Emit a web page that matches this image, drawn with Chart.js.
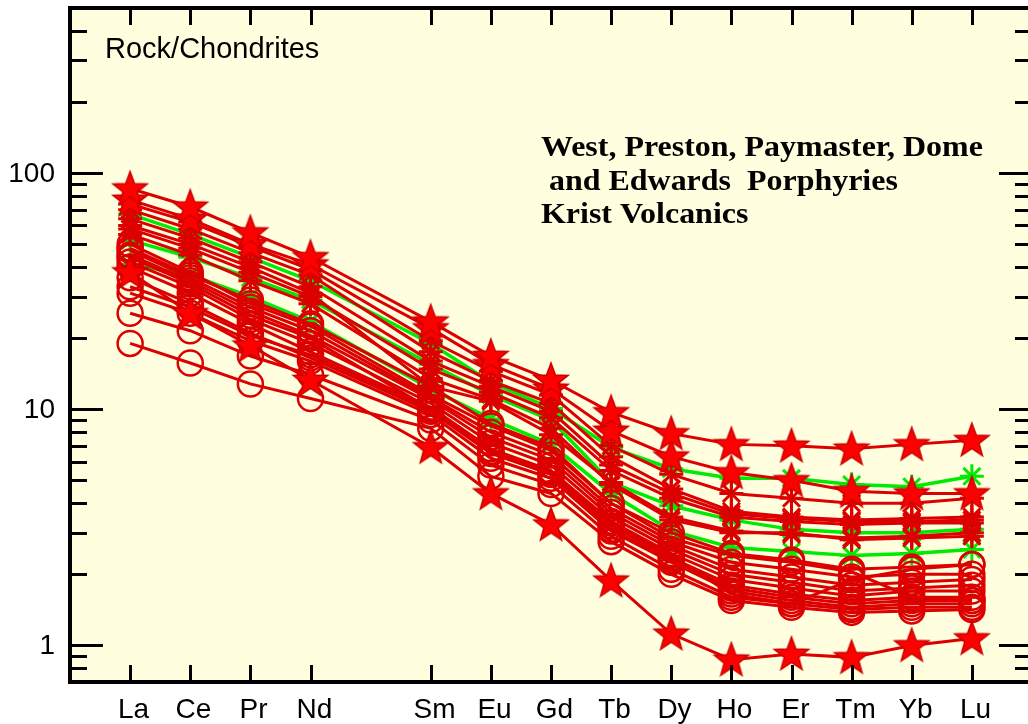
<!DOCTYPE html>
<html>
<head>
<meta charset="utf-8">
<title>REE spider diagram</title>
<script src="https://cdn.jsdelivr.net/npm/chart.js@4.4.1/dist/chart.umd.min.js"></script>
<style>
  html, body { margin: 0; padding: 0; background: #fff; overflow: hidden; }
  #wrap { width: 1028px; height: 724px; overflow: hidden; position: relative; }
  #ree { display: block; }
</style>
</head>
<body>
<div id="wrap"><canvas id="ree" width="1040" height="724"></canvas></div>
<script>
// x axis slots; Pm is not analysed, its slot stays empty
const elements = ['La', 'Ce', 'Pr', 'Nd', 'Pm', 'Sm', 'Eu', 'Gd', 'Tb', 'Dy', 'Ho', 'Er', 'Tm', 'Yb', 'Lu'];
const analysed = ['La', 'Ce', 'Pr', 'Nd', 'Sm', 'Eu', 'Gd', 'Tb', 'Dy', 'Ho', 'Er', 'Tm', 'Yb', 'Lu'];
const yTickLabels = [1, 10, 100];

// rock / chondrite values, one row per sample, in `analysed` order
const starSamples = [
    [86, 72, 56, 44, 23.5, 16.8, 13.3, 9.7, 7.9, 7.1, 7.0, 6.8, 7.1, 7.4],
    [77, 64, 50, 41, 22, 15.5, 12.2, 8.1, 6.3, 5.4, 5.0, 4.5, 4.4, 4.4],
    [38, 25.5, 18.6, 13.3, 6.9, 4.4, 3.25, 1.88, 1.12, 0.87, 0.92, 0.89, 1.0, 1.07]
];

const crossSamples = [
    [70, 58, 46, 37, 17.5, 13.2, 10.6, 6.3, 4.6, 3.7, 3.5, 3.4, 3.45, 3.5],
    [64, 53, 42, 33, 16, 12.5, 9.8, 5.8, 4.4, 3.6, 3.45, 3.35, 3.35, 3.4],
    [58, 48, 38, 30, 14.8, 11.8, 9.2, 5.5, 4.2, 3.5, 3.35, 3.25, 3.3, 3.3],
    [55, 45, 35, 28, 13.5, 11, 8.3, 4.8, 3.4, 3.0, 3.0, 2.8, 2.85, 2.9],
    [60, 50, 40, 31, 12.5, 10.8, 7.8, 4.9, 3.5, 3.05, 2.95, 2.85, 2.9, 3.0],
    [74, 62, 49, 39, 19.5, 14.5, 11.5, 7.0, 5.3, 4.4, 4.2, 4.0, 4.0, 4.2]
];

const circleSamples = [
    [19, 15.7, 12.8, 11.1, 8.3, 5.2, 4.4, 2.75, 2.0, 1.55, 1.45, 1.38, 1.4, 1.42],
    [25.5, 21.5, 16.8, 14, 9.0, 5.8, 4.8, 2.9, 2.1, 1.6, 1.5, 1.42, 1.45, 1.45],
    [31, 25.5, 19.5, 16, 9.5, 6.2, 5.1, 3.05, 2.25, 1.7, 1.55, 1.45, 1.5, 1.5],
    [36, 28, 21, 16.5, 9.8, 6.5, 5.3, 3.2, 2.35, 1.8, 1.65, 1.55, 1.6, 1.6],
    [40, 31, 23, 17.5, 10.2, 6.8, 5.5, 3.35, 2.45, 1.9, 1.75, 1.62, 1.7, 1.7],
    [42, 33, 24, 19, 10.6, 7.2, 5.8, 3.5, 2.55, 2.0, 1.85, 1.7, 1.75, 1.8],
    [45, 35, 26, 20.5, 11, 7.6, 6.1, 3.65, 2.65, 2.1, 1.95, 1.8, 1.85, 1.9],
    [47, 36, 27, 21.5, 11.2, 8.0, 6.4, 3.8, 2.75, 2.25, 2.1, 1.95, 2.0, 2.0],
    [50, 38, 28, 22.5, 11.5, 8.5, 6.7, 4.0, 2.85, 2.4, 2.25, 2.05, 1.6, 1.55],
    [44, 34, 25, 20, 10.0, 6.6, 5.4, 3.3, 2.4, 1.65, 1.5, 1.9, 2.1, 2.2],
    [48, 37, 29, 23, 12.5, 8.7, 6.9, 4.0, 3.0, 2.45, 2.3, 2.1, 2.15, 2.2],
    [33, 27, 20.5, 17, 10, 6.6, 5.3, 3.1, 2.3, 1.75, 1.6, 1.5, 1.55, 1.55]
];

const greenSamples = [
    [67, 55, 44, 35, 19, 13, 10.1, 6.9, 5.6, 5.1, 5.1, 4.8, 4.7, 5.2],
    [52, 44, 36, 29, 15.5, 11.5, 9.0, 4.9, 3.9, 3.4, 3.1, 3.0, 3.0, 3.1],
    [41, 37, 30, 23.5, 12.2, 9.1, 7.1, 4.4, 3.06, 2.6, 2.5, 2.4, 2.45, 2.55]
];

const red = 'rgb(221, 0, 0)';
const green = 'rgb(0, 235, 0)';
const paper = '#FFFFE0';
const sans = '"Liberation Sans", Arial, sans-serif';

// filled five-point star used as a marker image
function makeStar(rOut, rIn) {
    const size = Math.ceil(rOut * 2 + 4);
    const c = document.createElement('canvas');
    c.width = c.height = size;
    const g = c.getContext('2d');
    g.translate(size / 2, size / 2 + 1);
    g.beginPath();
    for (let i = 0; i < 10; i++) {
        const r = i % 2 ? rIn : rOut;
        const a = -Math.PI / 2 + i * Math.PI / 5;
        g.lineTo(r * Math.cos(a), r * Math.sin(a));
    }
    g.closePath();
    g.fillStyle = '#ff0000';
    g.fill();
    g.lineWidth = 1.5;
    g.strokeStyle = '#cc0000';
    g.stroke();
    return c;
}
const starImg = makeStar(18, 7.5);

function toPoints(row) {
    return row.map((v, i) => ({ x: elements.indexOf(analysed[i]), y: v }));
}

const datasets = [];
starSamples.forEach(row => datasets.push({
    data: toPoints(row), borderColor: red, borderWidth: 3,
    pointStyle: starImg, pointRadius: 17, order: 1
}));
crossSamples.forEach(row => datasets.push({
    data: toPoints(row), borderColor: red, borderWidth: 3,
    pointStyle: 'star', pointRadius: 12, pointBorderWidth: 3,
    pointBorderColor: red, order: 2
}));
circleSamples.forEach(row => datasets.push({
    data: toPoints(row), borderColor: red, borderWidth: 3,
    pointStyle: 'circle', pointRadius: 12.5, pointBorderWidth: 2.5,
    pointBorderColor: red, pointBackgroundColor: 'rgba(0,0,0,0)', order: 2
}));
greenSamples.forEach(row => datasets.push({
    data: toPoints(row), borderColor: green, borderWidth: 3.5,
    pointStyle: 'star', pointRadius: 12, pointBorderWidth: 3,
    pointBorderColor: green, order: 3
}));

// paper colour behind the plot; frame, inward ticks, tick labels and captions on top
const framePlugin = {
    id: 'frame',
    beforeDraw(chart) {
        const { ctx, chartArea: a } = chart;
        ctx.save();
        ctx.fillStyle = '#fff';
        ctx.fillRect(0, 0, chart.width, chart.height);
        ctx.fillStyle = paper;
        ctx.fillRect(a.left, a.top, a.right - a.left, a.bottom - a.top);
        ctx.restore();
    },
    afterDraw(chart) {
        const { ctx, chartArea: a, scales } = chart;
        const ys = scales.y, xs = scales.x;
        ctx.save();
        ctx.strokeStyle = '#000';
        ctx.fillStyle = '#000';
        ctx.lineCap = 'butt';

        // y ticks on both sides, labels at the decades
        ctx.lineWidth = 3;
        ctx.font = '28px ' + sans;
        ctx.textAlign = 'right';
        ctx.textBaseline = 'middle';
        const lo = Math.floor(Math.log10(ys.min)), hi = Math.ceil(Math.log10(ys.max));
        for (let e = lo; e <= hi; e++) {
            for (let m = 1; m <= 9; m++) {
                const v = m * Math.pow(10, e);
                if (v < ys.min || v > ys.max) continue;
                const py = Math.round(ys.getPixelForValue(v)) + 0.5;
                const len = m === 1 ? 33 : 17;
                ctx.beginPath();
                ctx.moveTo(a.left, py); ctx.lineTo(a.left + len, py);
                ctx.moveTo(a.right, py); ctx.lineTo(a.right - len, py);
                ctx.stroke();
                if (yTickLabels.includes(v)) ctx.fillText(String(v), 55, py + 1);
            }
        }

        // x ticks top and bottom, element names below
        ctx.textAlign = 'center';
        ctx.textBaseline = 'alphabetic';
        elements.forEach((el, i) => {
            if (el === 'Pm') return;
            const px = Math.round(xs.getPixelForValue(i)) + 0.5;
            ctx.beginPath();
            ctx.moveTo(px, a.top); ctx.lineTo(px, a.top + 17);
            ctx.moveTo(px, a.bottom); ctx.lineTo(px, a.bottom - 17);
            ctx.stroke();
            ctx.fillText(el, px + 3, 718);
        });

        ctx.lineWidth = 4;
        ctx.strokeRect(a.left, a.top, a.right - a.left, a.bottom - a.top);

        ctx.textAlign = 'left';
        ctx.font = '29px ' + sans;
        ctx.fillText('Rock/Chondrites', 105, 58);

        // sample-group caption, slightly widened serif
        ctx.font = 'bold 30px "Liberation Serif", "Times New Roman", serif';
        ctx.translate(541, 0);
        ctx.scale(1.065, 1);
        ctx.fillText('West, Preston, Paymaster, Dome', 0, 156);
        ctx.fillText(' and Edwards  Porphyries', 0, 190);
        ctx.fillText('Krist Volcanics', 0, 223);
        ctx.restore();
    }
};

Chart.defaults.font.family = sans;
Chart.defaults.color = '#000';

new Chart(document.getElementById('ree'), {
    type: 'line',
    data: { datasets },
    options: {
        responsive: false,
        animation: false,
        layout: { autoPadding: false, padding: { top: 8, right: 8, left: 0, bottom: 0 } },
        plugins: { legend: { display: false }, tooltip: { enabled: false } },
        elements: { line: { tension: 0, fill: false } },
        scales: {
            x: {
                type: 'linear',
                min: -1,
                max: 15,
                grid: { display: false, drawTicks: false },
                border: { display: false },
                ticks: { display: false },
                afterFit: axis => { axis.height = 42; }
            },
            y: {
                type: 'logarithmic',
                min: 0.7,
                max: 500,
                grid: { display: false, drawTicks: false },
                border: { display: false },
                ticks: { display: false },
                afterFit: axis => { axis.width = 70; }
            }
        }
    },
    plugins: [framePlugin]
});
</script>
</body>
</html>
